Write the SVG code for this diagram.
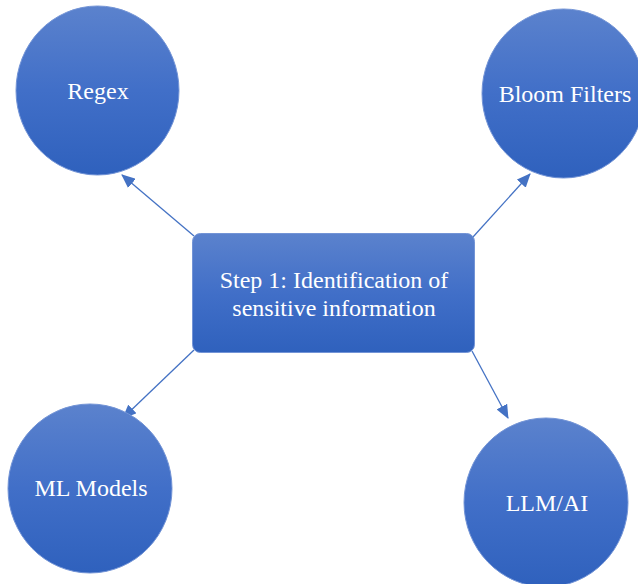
<svg xmlns="http://www.w3.org/2000/svg" width="638" height="584" viewBox="0 0 638 584">
<style>
.shape{fill:url(#g);stroke:#7394d6;stroke-width:1}
.lbl{font-size:24px;fill:#ffffff;text-anchor:middle}
.conn{stroke:#4472c4;stroke-width:1.3;fill:none;marker-end:url(#ah)}
</style>
<defs>
<linearGradient id="g" x1="0" y1="0" x2="0" y2="1">
<stop offset="0" stop-color="#5b82cd"/>
<stop offset="0.5" stop-color="#416fc8"/>
<stop offset="1" stop-color="#2f61bd"/>
</linearGradient>
<marker id="ah" markerWidth="14" markerHeight="12" refX="13" refY="6" orient="auto" markerUnits="userSpaceOnUse">
<path d="M0,0 L14,6 L0,12 Z" fill="#4472c4"/>
</marker>
</defs>
<g id="connectors">
<line class="conn" x1="194" y1="236" x2="122" y2="175"/>
<line class="conn" x1="473" y1="237" x2="530" y2="174"/>
<line class="conn" x1="194" y1="350" x2="123" y2="418"/>
<line class="conn" x1="472" y1="351" x2="508" y2="418"/>
</g>
<g id="regex" font-family="'Liberation Serif', 'Times New Roman', 'DejaVu Serif', serif">
<ellipse class="shape" cx="97.5" cy="90.5" rx="81.5" ry="84.5"/>
<text class="lbl" x="98" y="99">Regex</text>
</g>
<g id="bloom" font-family="'Liberation Serif', 'Times New Roman', 'DejaVu Serif', serif">
<ellipse class="shape" cx="563.5" cy="93.5" rx="81.5" ry="84.5"/>
<text class="lbl" x="565" y="102">Bloom Filters</text>
</g>
<g id="step1" font-family="'Liberation Serif', 'Times New Roman', 'DejaVu Serif', serif">
<rect class="shape" x="192.5" y="233.5" width="282" height="119" rx="8"/>
<text class="lbl" x="334" y="288">Step 1: Identification of</text>
<text class="lbl" x="334" y="316">sensitive information</text>
</g>
<g id="ml" font-family="'Liberation Serif', 'Times New Roman', 'DejaVu Serif', serif">
<ellipse class="shape" cx="90" cy="488.5" rx="82" ry="84.5"/>
<text class="lbl" x="91" y="496">ML Models</text>
</g>
<g id="llm" font-family="'Liberation Serif', 'Times New Roman', 'DejaVu Serif', serif">
<ellipse class="shape" cx="546" cy="502.5" rx="82" ry="84.5"/>
<text class="lbl" x="547" y="511">LLM/AI</text>
</g>
</svg>
